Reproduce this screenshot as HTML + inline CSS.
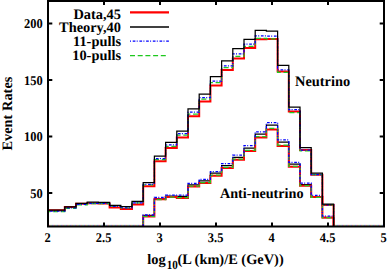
<!DOCTYPE html>
<html><head><meta charset="utf-8"><style>
html,body{margin:0;padding:0;background:#fff;}
body{width:388px;height:272px;overflow:hidden;}
svg{display:block;}
text{font-family:"Liberation Serif",serif;font-weight:bold;fill:#000;text-rendering:geometricPrecision;}
</style></head><body>
<svg width="388" height="272" viewBox="0 0 388 272">
<rect x="0" y="0" width="388" height="272" fill="#fff"/>
<defs><clipPath id="pc"><rect x="48" y="1" width="336" height="225.6"/></clipPath></defs>
<g clip-path="url(#pc)">
<path d="M143.2,240.0 V215.4 H154.4 V198.8 H165.6 V196.0 H176.8 V196.4 H188.0 V184.8 H199.2 V180.9 H210.4 V173.2 H221.6 V165.7 H232.8 V157.3 H244.0 V148.0 H255.2 V134.2 H266.4 V125.1 H277.6 V142.0 H288.8 V164.1 H300.0 V184.5 H311.2 V196.8 H322.4 V217.6 H333.6 V240.0" stroke="#000000" stroke-width="1.25" fill="none"/>
<path d="M143.2,240.0 V216.6 H154.4 V199.2 H165.6 V196.9 H176.8 V197.9 H188.0 V186.5 H199.2 V182.9 H210.4 V175.7 H221.6 V168.0 H232.8 V159.8 H244.0 V151.0 H255.2 V137.6 H266.4 V129.5 H277.6 V145.9 H288.8 V166.7 H300.0 V185.7 H311.2 V197.0 H322.4 V217.6 H333.6 V240.0" stroke="#ff0000" stroke-width="2" fill="none"/>
<path d="M143.2,240.0 V216.5 H154.4 V199.7 H165.6 V197.1 H176.8 V197.6 H188.0 V186.2 H199.2 V182.6 H210.4 V175.1 H221.6 V167.4 H232.8 V159.1 H244.0 V150.3 H255.2 V136.7 H266.4 V128.4 H277.6 V145.1 H288.8 V166.4 H300.0 V185.7 H311.2 V197.3 H322.4 V217.7 H333.6 V240.0" stroke="#22c822" stroke-width="1.2" stroke-dasharray="5,2.7" fill="none"/>
<path d="M143.2,240.0 V215.0 H154.4 V197.5 H165.6 V195.2 H176.8 V195.2 H188.0 V183.5 H199.2 V179.4 H210.4 V171.6 H221.6 V163.6 H232.8 V155.2 H244.0 V145.7 H255.2 V131.8 H266.4 V122.6 H277.6 V139.9 H288.8 V162.4 H300.0 V183.2 H311.2 V195.3 H322.4 V216.1 H333.6 V240.0" stroke="#0000ff" stroke-width="1.3" stroke-dasharray="2.7,1.3,1,1.7" fill="none"/>
<path d="M30.0,210.2 H53.6 V210.2 H64.8 V207.0 H76.0 V203.7 H87.2 V203.2 H98.4 V203.4 H109.6 V207.6 H120.8 V209.1 H132.0 V204.5 H143.2 V186.2 H154.4 V161.3 H165.6 V148.1 H176.8 V137.4 H188.0 V116.3 H199.2 V101.4 H210.4 V85.4 H221.6 V70.1 H232.8 V58.4 H244.0 V47.9 H255.2 V39.2 H266.4 V39.0 H277.6 V71.4 H288.8 V111.4 H300.0 V150.1 H311.2 V174.7 H322.4 V204.9 H333.6 V240.0" stroke="#ff0000" stroke-width="2" fill="none"/>
<path d="M30.0,211.7 H53.6 V211.7 H64.8 V208.3 H76.0 V204.8 H87.2 V203.6 H98.4 V203.7 H109.6 V206.5 H120.8 V208.0 H132.0 V202.9 H143.2 V184.9 H154.4 V159.7 H165.6 V146.3 H176.8 V135.1 H188.0 V114.1 H199.2 V99.2 H210.4 V82.7 H221.6 V67.6 H232.8 V56.3 H244.0 V46.4 H255.2 V38.3 H266.4 V38.9 H277.6 V72.3 H288.8 V112.6 H300.0 V151.0 H311.2 V174.7 H322.4 V204.9 H333.6 V240.0" stroke="#22c822" stroke-width="1.2" stroke-dasharray="5,2.7" fill="none"/>
<path d="M30.0,211.1 H53.6 V211.1 H64.8 V207.8 H76.0 V204.4 H87.2 V203.3 H98.4 V203.4 H109.6 V206.4 H120.8 V207.9 H132.0 V202.8 H143.2 V184.3 H154.4 V158.6 H165.6 V144.8 H176.8 V133.7 H188.0 V112.2 H199.2 V97.7 H210.4 V81.2 H221.6 V65.8 H232.8 V53.8 H244.0 V44.2 H255.2 V35.8 H266.4 V36.2 H277.6 V69.8 H288.8 V109.6 H300.0 V150.1 H311.2 V174.7 H322.4 V204.9 H333.6 V240.0" stroke="#0000ff" stroke-width="1.3" stroke-dasharray="2.7,1.3,1,1.7" fill="none"/>
<path d="M30.0,210.2 H53.6 V210.2 H64.8 V206.8 H76.0 V203.4 H87.2 V202.2 H98.4 V202.4 H109.6 V205.4 H120.8 V206.6 H132.0 V201.4 H143.2 V182.6 H154.4 V156.2 H165.6 V142.4 H176.8 V131.0 H188.0 V108.8 H199.2 V94.0 H210.4 V76.7 H221.6 V60.8 H232.8 V48.6 H244.0 V39.4 H255.2 V30.3 H266.4 V31.1 H277.6 V65.4 H288.8 V107.0 H300.0 V147.5 H311.2 V173.2 H322.4 V204.1 H333.6 V240.0" stroke="#000000" stroke-width="1.25" fill="none"/>
</g>
<g opacity="0.45" stroke-width="0.9" fill="none">
<path d="M49,225.3 H143 M334,225.3 H383" stroke="#ff0000" stroke-dasharray="1.5,3"/>
<path d="M49,225.3 H143 M334,225.3 H383" stroke="#0000ff" stroke-dasharray="1.5,3" stroke-dashoffset="1.5"/>
<path d="M49,225.3 H143 M334,225.3 H383" stroke="#22c822" stroke-dasharray="1.5,3" stroke-dashoffset="3"/>
</g>
<g stroke="#000" stroke-width="2" fill="none">
<path d="M48,1 H384 V226.6 H48 Z"/>
<path d="M48,193.1 h4.3 M384,193.1 h-4.3"/>
<path d="M48,136.6 h4.3 M384,136.6 h-4.3"/>
<path d="M48,80.1 h4.3 M384,80.1 h-4.3"/>
<path d="M48,23.6 h4.3 M384,23.6 h-4.3"/>
<path d="M104.0,226.6 v-4 M104.0,1 v4"/>
<path d="M160.0,226.6 v-4 M160.0,1 v4"/>
<path d="M216.0,226.6 v-4 M216.0,1 v4"/>
<path d="M272.0,226.6 v-4 M272.0,1 v4"/>
<path d="M328.0,226.6 v-4 M328.0,1 v4"/>
</g>
<g font-size="14" text-anchor="end">
<text transform="translate(42.8,197.5) scale(0.89,0.96)">50</text>
<text transform="translate(42.8,141.0) scale(0.89,0.96)">100</text>
<text transform="translate(42.8,84.5) scale(0.89,0.96)">150</text>
<text transform="translate(42.8,28.0) scale(0.89,0.96)">200</text>
</g>
<g font-size="14" text-anchor="middle">
<text transform="translate(47.6,242.2) scale(0.89,0.95)">2</text>
<text transform="translate(103.6,242.2) scale(0.89,0.95)">2.5</text>
<text transform="translate(159.6,242.2) scale(0.89,0.95)">3</text>
<text transform="translate(215.6,242.2) scale(0.89,0.95)">3.5</text>
<text transform="translate(271.6,242.2) scale(0.89,0.95)">4</text>
<text transform="translate(327.6,242.2) scale(0.89,0.95)">4.5</text>
<text transform="translate(383.6,242.2) scale(0.89,0.95)">5</text>
</g>
<text x="147.2" y="264" font-size="14.4">log</text>
<text transform="translate(166.8,268.7) scale(0.88,1)" font-size="12.6">10</text>
<text x="177.4" y="264" font-size="14.4">(L (km)/E (GeV))</text>
<text transform="translate(12,113.6) rotate(-90)" font-size="14.4" text-anchor="middle">Event Rates</text>
<g font-size="14.4" text-anchor="end">
<text x="121" y="18.5">Data,45</text>
<text x="121" y="32.3">Theory,40</text>
<text x="121" y="46.3">11-pulls</text>
<text x="121" y="60.2">10-pulls</text>
</g>
<line x1="130" y1="12.4" x2="169" y2="12.4" stroke="#ff0000" stroke-width="2.2"/>
<line x1="130" y1="27" x2="169" y2="27" stroke="#000" stroke-width="1.4"/>
<line x1="130" y1="41.2" x2="169" y2="41.2" stroke="#0000ff" stroke-width="1.3" stroke-dasharray="2.7,1.3,1,1.7" stroke-dashoffset="4"/>
<line x1="130" y1="55.7" x2="167" y2="55.7" stroke="#1ec81e" stroke-width="1.3" stroke-dasharray="5,2.7"/>
<text x="295" y="85.8" font-size="14.4">Neutrino</text>
<text x="220" y="197.6" font-size="14.4" textLength="83.5" lengthAdjust="spacingAndGlyphs">Anti-neutrino</text>
</svg>
</body></html>
